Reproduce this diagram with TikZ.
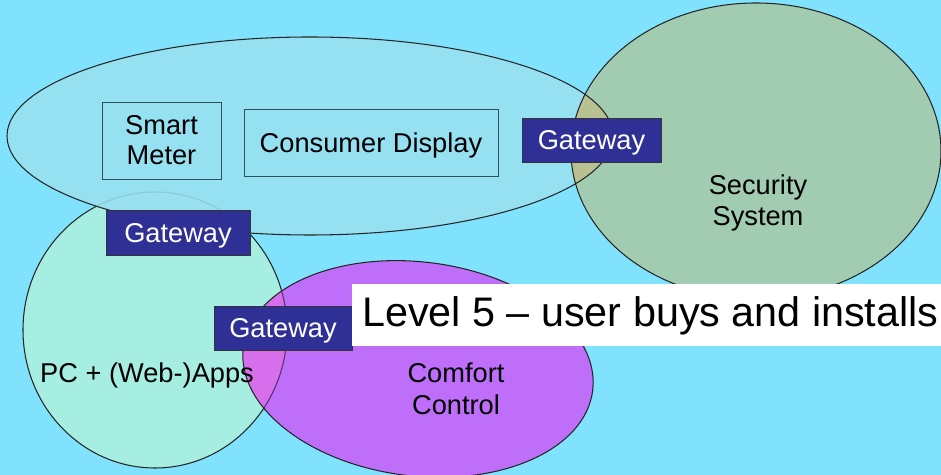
\documentclass[tikz,border=0pt]{standalone}
\usepackage{fontspec}
\setmainfont{Liberation Sans}
\usetikzlibrary{positioning}

\definecolor{fondo}{HTML}{80E2FC}
\definecolor{hogar}{HTML}{98E0F0}
\definecolor{seguridad}{HTML}{A2CCB2}
\definecolor{cruce}{HTML}{B9C091}
\definecolor{pc}{HTML}{A6EEE2}
\definecolor{confort}{HTML}{BE6EF8}
\definecolor{rosa}{HTML}{D76EEB}
\definecolor{pasarela}{HTML}{2E3096}
\definecolor{borde}{HTML}{2F4F5A}

\begin{document}
\begin{tikzpicture}[
        caja/.style={draw=borde, line width=0.5pt, inner sep=0pt, align=center,
            font=\fontsize{15.5}{17}\selectfont},
        gateway/.style={fill=pasarela, draw=black!80, line width=0.5pt, text=white,
            inner sep=0pt, minimum height=0.88cm, text depth=0pt,
            font=\fontsize{15.5}{17}\selectfont},
        etiqueta/.style={align=center, font=\fontsize{15.5}{18}\selectfont},
        contorno/.style={draw=black!85, line width=0.6pt}
    ]
    \useasboundingbox (0,0) rectangle (18.82,9.5);
    \clip (0,0) rectangle (18.82,9.5);
    \fill[fondo] (0,0) rectangle (18.82,9.5);

    % Zona PC
    \fill[pc] (3.10,2.90) ellipse (2.64cm and 2.76cm);
    \draw[contorno] (3.10,2.90) ellipse (2.64cm and 2.76cm);

    % Red domestica (encima, algo transparente)
    \fill[hogar, fill opacity=0.88] (6.20,6.78) ellipse (6.06cm and 1.98cm);

    % Sistema de seguridad y su cruce con la red
    \fill[seguridad] (15.12,6.48) ellipse (3.70cm and 2.96cm);
    \begin{scope}
        \clip (6.20,6.78) ellipse (6.06cm and 1.98cm);
        \fill[cruce] (15.12,6.48) ellipse (3.70cm and 2.96cm);
    \end{scope}
    \draw[contorno] (6.20,6.78) ellipse (6.06cm and 1.98cm);
    \draw[contorno] (15.12,6.48) ellipse (3.70cm and 2.96cm);

    % Control de confort y su cruce con la zona PC
    \fill[confort, rotate around={-7:(8.36,2.12)}] (8.36,2.12) ellipse (3.52cm and 2.14cm);
    \begin{scope}
        \clip (3.10,2.90) ellipse (2.64cm and 2.76cm);
        \fill[rosa, rotate around={-7:(8.36,2.12)}] (8.36,2.12) ellipse (3.52cm and 2.14cm);
    \end{scope}
    \begin{scope}
        \clip[rotate around={-7:(8.36,2.12)}] (8.36,2.12) ellipse (3.52cm and 2.14cm);
        \draw[confort!45!black, line width=0.6pt] (3.10,2.90) ellipse (2.64cm and 2.76cm);
    \end{scope}
    \draw[contorno, rotate around={-7:(8.36,2.12)}] (8.36,2.12) ellipse (3.52cm and 2.14cm);

    % Dispositivos
    \node[caja, minimum width=2.38cm, minimum height=1.54cm] (meter) at (3.23,6.69) {Smart\\Meter};
    \node[caja, minimum width=5.08cm, minimum height=1.34cm, text depth=0pt] (display) at (7.42,6.65) {Consumer Display};
    \node[etiqueta] (security) at (15.16,5.44) {Security\\System};
    \node[etiqueta, text depth=0pt] (pcapps) at (2.94,2.04) {PC + (Web-)Apps};
    \node[etiqueta] (comfort) at (9.12,1.72) {Comfort\\Control};

    % Pasarelas
    \node[gateway, minimum width=2.78cm] (gwsec) at (11.83,6.70) {Gateway};
    \node[gateway, minimum width=2.88cm, minimum height=0.90cm] (gwpc) at (3.56,4.85) {Gateway};
    \node[gateway, minimum width=2.76cm] (gwcomf) at (5.66,2.94) {Gateway};

    % Titulo
    \fill[white] (7.04,2.58) rectangle (18.82,3.82);
    \node[anchor=west, inner sep=0pt, font=\fontsize{23.5}{28}\selectfont] (titulo) at (7.24,3.18)
        {Level 5 – user buys and installs};
\end{tikzpicture}
\end{document}
